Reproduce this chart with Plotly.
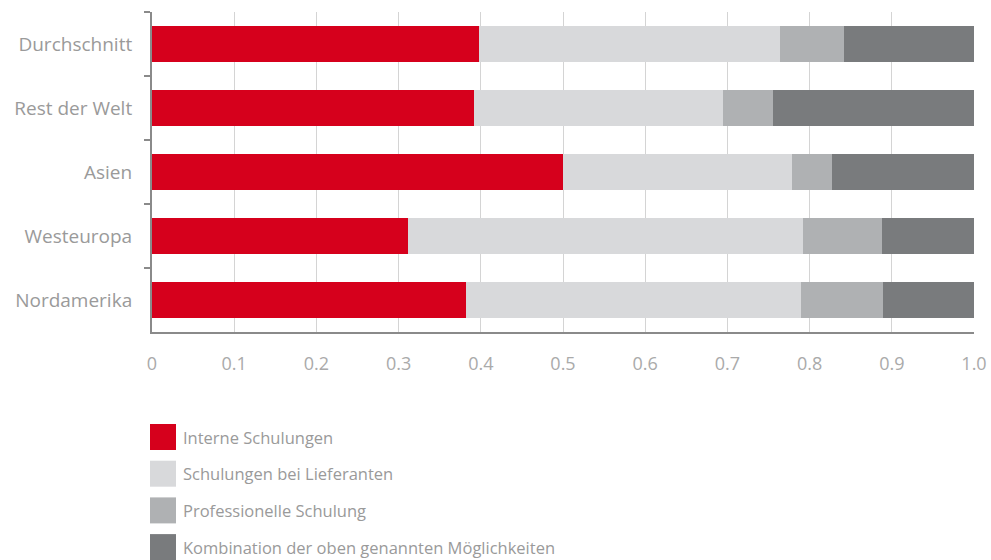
import plotly.graph_objects as go

# Regions, top to bottom
regions = ["Durchschnitt", "Rest der Welt", "Asien", "Westeuropa", "Nordamerika"]

# Share of each training type per region
interne = [0.398, 0.392, 0.500, 0.311, 0.382]
lieferanten = [0.366, 0.303, 0.279, 0.481, 0.407]
professionell = [0.078, 0.060, 0.048, 0.096, 0.100]
kombination = [0.158, 0.245, 0.173, 0.112, 0.111]

series_names = [
    "Interne Schulungen",
    "Schulungen bei Lieferanten",
    "Professionelle Schulung",
    "Kombination der oben genannten Möglichkeiten",
]
series_values = [interne, lieferanten, professionell, kombination]
series_colors = ["#d6001c", "#d8d9db", "#afb1b3", "#797b7d"]

x_tickvals = [0, 0.1, 0.2, 0.3, 0.4, 0.5, 0.6, 0.7, 0.8, 0.9, 1.0]
x_ticktext = ["0", "0.1", "0.2", "0.3", "0.4", "0.5", "0.6", "0.7", "0.8", "0.9", "1.0"]

FONT = "Open Sans"
LABEL_GREY = "#9a9a9a"

fig = go.Figure()
for name, vals, color in zip(series_names, series_values, series_colors):
    fig.add_trace(go.Bar(
        y=regions, x=vals, name=name, orientation="h",
        marker=dict(color=color, line=dict(width=0)),
        showlegend=False,
    ))

# Legend drawn as large swatches with labels underneath the plot
plot_w, plot_h = 822, 320
legend_first_top = 92   # px below the bottom of the plot area
legend_step = 36.7
sw = 26
for i, (name, color) in enumerate(zip(series_names, series_colors)):
    top = -(legend_first_top + i * legend_step) / plot_h
    fig.add_shape(type="rect", xref="paper", yref="paper",
                  x0=-2 / plot_w, x1=(sw - 2) / plot_w, y0=top - sw / plot_h, y1=top,
                  fillcolor=color, line=dict(width=0))
    fig.add_annotation(xref="paper", yref="paper", x=29 / plot_w, y=top - sw / 2 / plot_h,
                       text=name, showarrow=False, xanchor="left", yanchor="middle",
                       font=dict(family=FONT, size=16.5, color=LABEL_GREY))

fig.update_layout(
    template="none",
    width=991, height=560,
    margin=dict(l=152, r=17, t=12, b=228, pad=0),
    paper_bgcolor="white", plot_bgcolor="white",
    barmode="stack", bargap=0.45,
    font=dict(family=FONT, color=LABEL_GREY),
)
fig.update_xaxes(
    range=[0, 1.0], tickvals=x_tickvals, ticktext=x_ticktext,
    showgrid=True, gridcolor="#d4d4d4", gridwidth=1,
    showline=True, linecolor="#8a8a8a", linewidth=2,
    ticks="", zeroline=False, ticklabelstandoff=14, automargin=False,
    tickfont=dict(family=FONT, size=18, color="#aaaaaa"),
)
fig.update_yaxes(
    autorange="reversed", showgrid=False, automargin=False,
    showline=True, linecolor="#8a8a8a", linewidth=2,
    ticks="outside", tickson="boundaries", ticklen=6, tickcolor="#8a8a8a", tickwidth=2,
    ticklabelstandoff=14,
    tickfont=dict(family=FONT, size=19, color=LABEL_GREY),
)

fig.write_html("out.html")
